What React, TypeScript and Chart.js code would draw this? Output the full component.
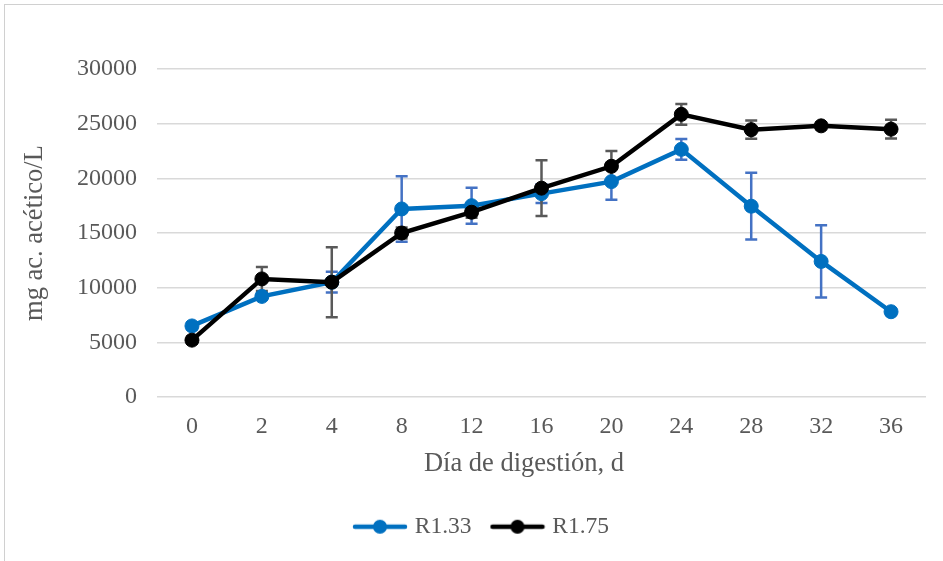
import React, { useEffect, useRef } from "react";
import { Chart, registerables } from "chart.js";

Chart.register(...registerables);

const days = ["0", "2", "4", "8", "12", "16", "20", "24", "28", "32", "36"];
const seriesNames = ["R1.33", "R1.75"];
const r133 = [6500, 9200, 10500, 17200, 17500, 18600, 19700, 22650, 17450, 12400, 7800];
const r175 = [5200, 10800, 10500, 15000, 16900, 19100, 21100, 25850, 24450, 24800, 24500];
const errR133 = [300, 300, 950, 3000, 1650, 850, 1650, 950, 3050, 3300, 300];
const errR175 = [300, 1100, 3200, 500, 500, 2550, 1400, 950, 830, 300, 850];
const yMin = 0;
const yMax = 30000;
const yStep = 5000;
const xTitle = "Día de digestión, d";
const yTitle = "mg ac. acético/L";

const FONT = "'Liberation Serif', 'Times New Roman', serif";
const TEXT = "#595959";

function legendIcon(color: string) {
  const c = document.createElement("canvas");
  c.width = 56;
  c.height = 18;
  const g = c.getContext("2d")!;
  g.strokeStyle = color;
  g.lineWidth = 4.5;
  g.lineCap = "round";
  g.beginPath();
  g.moveTo(3, 9);
  g.lineTo(53, 9);
  g.stroke();
  g.fillStyle = color;
  g.beginPath();
  g.arc(28, 9, 7, 0, Math.PI * 2);
  g.fill();
  return c;
}

const errorBarPlugin = {
  id: "errorBars",
  beforeDatasetsDraw(chart: any) {
    const { ctx } = chart;
    const x = chart.scales.x;
    const y = chart.scales.y;
    chart.data.datasets.forEach((ds: any) => {
      const errs: number[] = ds.errors || [];
      ctx.save();
      ctx.strokeStyle = ds.errorColor;
      ctx.lineWidth = 2.5;
      ds.data.forEach((v: number, i: number) => {
        const e = errs[i] || 0;
        const px = x.getPixelForValue(i);
        const top = y.getPixelForValue(v + e);
        const bot = y.getPixelForValue(v - e);
        ctx.beginPath();
        ctx.moveTo(px, top);
        ctx.lineTo(px, bot);
        ctx.moveTo(px - 6, top);
        ctx.lineTo(px + 6, top);
        ctx.moveTo(px - 6, bot);
        ctx.lineTo(px + 6, bot);
        ctx.stroke();
      });
      ctx.restore();
    });
  },
};

const xTitlePlugin = {
  id: "xTitle",
  afterDraw(chart: any) {
    const { ctx, chartArea } = chart;
    const x = chart.scales.x;
    const size = 26.5;
    ctx.save();
    ctx.font = `${size}px ${FONT}`;
    ctx.fillStyle = TEXT;
    ctx.textAlign = "center";
    ctx.textBaseline = "middle";
    ctx.fillText(
      xTitle,
      (chartArea.left + chartArea.right) / 2 - 17.5,
      x.bottom - 12 - (size * 1.2) / 2
    );
    ctx.restore();
  },
};

export default function App() {
  const ref = useRef<HTMLCanvasElement | null>(null);

  useEffect(() => {
    if (!ref.current) return;
    const datasets: any[] = [
      {
        label: seriesNames[0],
        data: r133,
        errors: errR133,
        errorColor: "#4472C4",
        borderColor: "#0070C0",
        backgroundColor: "#0070C0",
        pointBackgroundColor: "#0070C0",
        pointBorderColor: "#0070C0",
        borderWidth: 4.5,
        pointRadius: 7,
        pointBorderWidth: 1,
        tension: 0,
        order: 1,
        icon: legendIcon("#0070C0"),
      },
      {
        label: seriesNames[1],
        data: r175,
        errors: errR175,
        errorColor: "#595959",
        borderColor: "#000000",
        backgroundColor: "#000000",
        pointBackgroundColor: "#000000",
        pointBorderColor: "#000000",
        borderWidth: 4.5,
        pointRadius: 7,
        pointBorderWidth: 1,
        tension: 0,
        order: 0,
        icon: legendIcon("#000000"),
      },
    ];
    const chart = new Chart(ref.current, {
      type: "line",
      data: { labels: days, datasets },
      plugins: [errorBarPlugin, xTitlePlugin],
      options: {
        responsive: false,
        animation: false,
        layout: { padding: { left: 40, right: 17, top: 69, bottom: 12.5 } },
        plugins: {
          tooltip: { enabled: false },
          legend: {
            position: "bottom",
            labels: {
              usePointStyle: true,
              pointStyleWidth: 46,
              padding: 23,
              color: TEXT,
              font: { family: FONT, size: 23.5 },
              generateLabels: (c: any) =>
                c.data.datasets.map((ds: any, i: number) => ({
                  text: ds.label,
                  pointStyle: ds.icon,
                  fillStyle: ds.borderColor,
                  strokeStyle: ds.borderColor,
                  lineWidth: 0,
                  hidden: false,
                  datasetIndex: i,
                  fontColor: TEXT,
                })),
            },
          },
        },
        scales: {
          x: {
            offset: true,
            grid: { display: false, offset: true },
            border: { display: false },
            ticks: {
              color: TEXT,
              font: { family: FONT, size: 24 },
              padding: 7,
              maxRotation: 0,
              autoSkip: false,
            },
            title: { display: false },
            afterFit: (s: any) => {
              s.height = 95;
            },
          },
          y: {
            min: yMin,
            max: yMax,
            grid: { color: "#d9d9d9", lineWidth: 1.5, drawTicks: false },
            border: { display: false },
            ticks: {
              stepSize: yStep,
              color: TEXT,
              font: { family: FONT, size: 24 },
              padding: 20,
              callback: (v: any) => String(v),
            },
            title: {
              display: true,
              text: yTitle,
              color: TEXT,
              font: { family: FONT, size: 26.5 },
              padding: { top: -21, bottom: 0 },
            },
            afterFit: (s: any) => {
              s.width = 117;
            },
          },
        },
      },
    } as any);
    return () => chart.destroy();
  }, []);

  return (
    <div
      style={{
        position: "fixed",
        left: 0,
        top: 0,
        width: 943,
        height: 561,
        background: "#ffffff",
        overflow: "hidden",
      }}
    >
      <div
        style={{
          position: "absolute",
          left: 4,
          top: 4,
          right: 0,
          bottom: 0,
          borderTop: "1px solid #d0d0d0",
          borderLeft: "1px solid #d0d0d0",
        }}
      />
      <canvas
        ref={ref}
        width={943}
        height={561}
        style={{ position: "absolute", left: 0, top: 0, width: 943, height: 561 }}
      />
    </div>
  );
}
